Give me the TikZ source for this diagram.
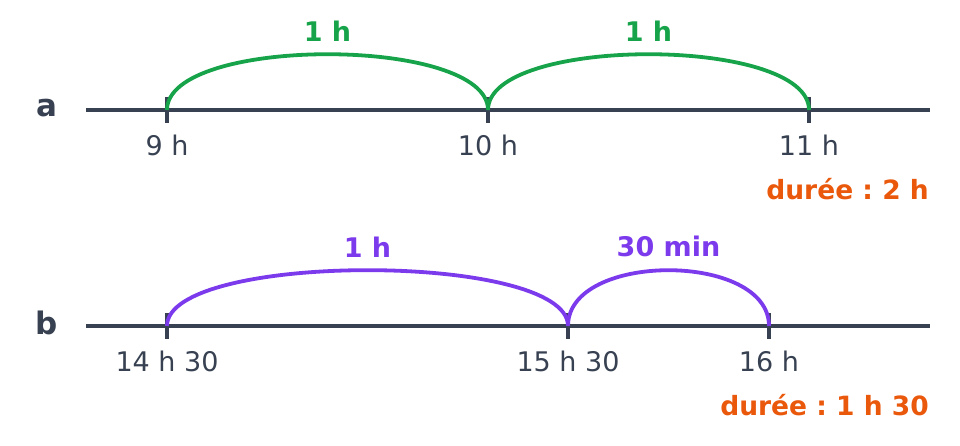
\documentclass[tikz,border=0pt]{standalone}
\usepackage{fontspec}
\setmainfont{DejaVu Sans}
\frenchspacing
\definecolor{axe}{HTML}{374151}
\definecolor{vert}{HTML}{16A34A}
\definecolor{violet}{HTML}{7C3AED}
\definecolor{orange}{HTML}{EA580C}
\begin{document}
\begin{tikzpicture}[x=1pt,y=1pt,
    every node/.style={font=\fontsize{27}{31}\selectfont,text=axe,inner sep=0pt},
    axis/.style={draw=axe,line width=4pt},
    tick/.style={draw=axe,line width=4.5pt},
    bond/.style={line width=3.8pt},
    rowlabel/.style={font=\fontsize{31}{36}\selectfont\bfseries},
    bondlabel/.style={font=\fontsize{27}{31}\selectfont\bfseries,above=11pt},
    duree/.style={font=\fontsize{26.5}{31}\selectfont\bfseries,text=orange,anchor=east}]
    \useasboundingbox (0,0) rectangle (960,446);
    % ligne a
    \node[rowlabel] (rowa) at (47,338) {a};
    \coordinate (a0) at (86,336);
    \coordinate (a9) at (167,336);
    \coordinate (a10) at (488,336);
    \coordinate (a11) at (809,336);
    \coordinate (a1) at (930,336);
    \draw[axis] (a0) -- (a1);
    \draw[tick] (a9) ++(0,13) -- ++(0,-26);
    \draw[tick] (a10) ++(0,13) -- ++(0,-26);
    \draw[tick] (a11) ++(0,13) -- ++(0,-26);
    \node (la9) at (167,301) {9 h};
    \node (la10) at (488,301) {10 h};
    \node (la11) at (809,301) {11 h};
    \draw[bond,vert] (a9) to[out=90,in=90,looseness=0.594]
        node[midway,bondlabel,text=vert] (ha) {1 h} (a10);
    \draw[bond,vert] (a10) to[out=90,in=90,looseness=0.594]
        node[midway,bondlabel,text=vert] (hb) {1 h} (a11);
    \node[duree] (da) at (929,257) {durée : 2 h};
    % ligne b
    \node[rowlabel] (rowb) at (47,123) {b};
    \coordinate (b0) at (86,120);
    \coordinate (b1430) at (167,120);
    \coordinate (b1530) at (568,120);
    \coordinate (b16) at (769,120);
    \coordinate (b1) at (930,120);
    \draw[axis] (b0) -- (b1);
    \draw[tick] (b1430) ++(0,13) -- ++(0,-26);
    \draw[tick] (b1530) ++(0,13) -- ++(0,-26);
    \draw[tick] (b16) ++(0,13) -- ++(0,-26);
    \node (lb1430) at (167,85) {14 h 30};
    \node (lb1530) at (568,85) {15 h 30};
    \node (lb16) at (769,85) {16 h};
    \draw[bond,violet] (b1430) to[out=90,in=90,looseness=0.476]
        node[midway,bondlabel,text=violet] (hc) {1 h} (b1530);
    \draw[bond,violet] (b1530) to[out=90,in=90,looseness=0.949]
        node[midway,bondlabel,text=violet] (hd) {30 min} (b16);
    \node[duree] (db) at (929,41) {durée : 1 h 30};
\end{tikzpicture}
\end{document}
